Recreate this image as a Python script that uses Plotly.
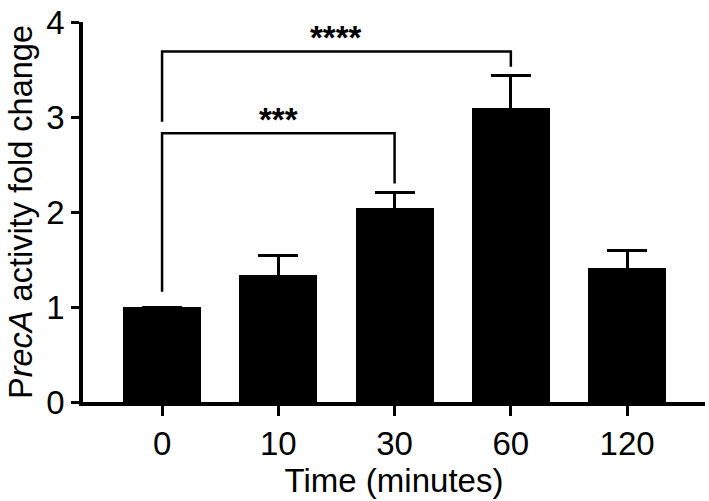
import plotly.graph_objects as go

# ---- data ----
categories = ["0", "10", "30", "60", "120"]
fold_change = [1.0, 1.34, 2.04, 3.09, 1.41]
sem_upper = [0.0, 0.20, 0.17, 0.35, 0.19]

# significance brackets: (left index, right index, bracket height, left leg bottom, right leg bottom, label)
bracket_left = [0, 0]
bracket_right = [2, 3]
bracket_height = [2.83, 3.69]
bracket_left_bottom = [1.16, 2.95]
bracket_right_bottom = [2.30, 3.53]
bracket_labels = ["***", "****"]

FONT = "Arial, Liberation Sans, Helvetica, sans-serif"

xpos = list(range(len(categories)))
err_draw = [e if e > 0 else None for e in sem_upper]

fig = go.Figure()
fig.add_trace(go.Bar(
    x=xpos, y=fold_change, width=0.67,
    marker=dict(color="black", line=dict(width=0)),
    error_y=dict(type="data", symmetric=True, array=err_draw,
                 color="black", thickness=3, width=20, visible=True),
    showlegend=False,
))

shapes = []
annotations = []
for l, r, h, lb, rb, lab in zip(bracket_left, bracket_right, bracket_height,
                                bracket_left_bottom, bracket_right_bottom, bracket_labels):
    shapes.append(dict(type="path", xref="x", yref="y",
                       path=f"M {xpos[l]},{lb} L {xpos[l]},{h} L {xpos[r]},{h} L {xpos[r]},{rb}",
                       line=dict(color="black", width=2.5)))
    annotations.append(dict(x=(xpos[l] + xpos[r]) / 2, y=h, xref="x", yref="y",
                            text=f"<b>{lab}</b>", showarrow=False,
                            yanchor="bottom", yshift=-7,
                            font=dict(family=FONT, size=33, color="black")))

fig.update_layout(
    width=709, height=501,
    margin=dict(l=83, r=4, t=16, b=99),
    paper_bgcolor="white", plot_bgcolor="white",
    font=dict(family=FONT, size=33, color="black"),
    shapes=shapes, annotations=annotations,
    bargap=0,
)
fig.update_xaxes(
    range=[-0.68, 4.67], tickmode="array", tickvals=xpos, ticktext=categories,
    showline=True, linecolor="black", linewidth=3.5,
    ticks="outside", ticklen=10, tickwidth=3, tickcolor="black",
    showgrid=False, zeroline=False,
    title=dict(text="Time (minutes)", standoff=0, font=dict(size=33)),
    tickfont=dict(size=33),
)
fig.update_yaxes(
    range=[0, 4], tickvals=[0, 1, 2, 3, 4],
    showline=True, linecolor="black", linewidth=3.5,
    ticks="outside", ticklen=8, tickwidth=3, tickcolor="black",
    showgrid=False, zeroline=False, ticklabeloverflow="allow",
    title=dict(text="P<i>recA</i> activity fold change", standoff=5, font=dict(size=32.5)),
    tickfont=dict(size=33),
)

fig.write_html("out.html")
